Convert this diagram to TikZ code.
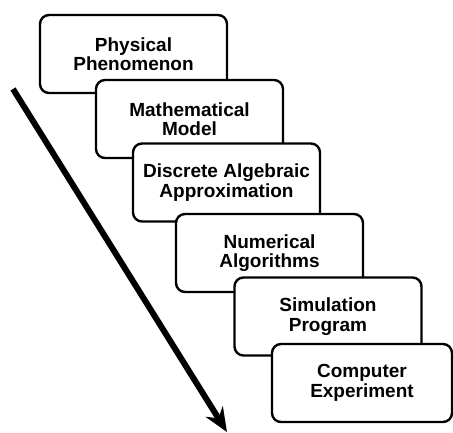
\documentclass[tikz,border=0pt]{standalone}
\usepackage{fontspec}
\setmainfont{Liberation Sans}
\usetikzlibrary{arrows.meta,positioning}

\begin{document}
\begin{tikzpicture}[x=1pt, y=-1pt]
		% --- Marco de la imagen ---
		\useasboundingbox (0,0) rectangle (453,433);
		
		% --- Estilos ---
		\tikzset{stagebox/.style={draw, line width=2.4pt, rounded corners=9pt, fill=white, align=center,
				minimum width=187pt, minimum height=78pt, inner sep=0pt,
				font=\bfseries\fontsize{19}{19.5}\selectfont}}
		
		% --- Etapas (cada una tapa a la anterior) ---
		\node[stagebox] (phys) at (133.5, 54) {Physical\\Phenomenon};
		\node[stagebox] (math) at (189.5, 119) {Mathematical\\Model};
		\node[stagebox] (disc) at (226.5, 182.5) {Discrete Algebraic\\Approximation};
		\node[stagebox] (num)  at (269.5, 253) {Numerical\\Algorithms};
		\node[stagebox] (sim)  at (328, 316.5) {Simulation\\Program};
		\node[stagebox, minimum width=180pt] (comp) at (362, 383) {Computer\\Experiment};
		
		% --- Flecha diagonal ---
		\coordinate (start) at (13, 89);
		\coordinate (end) at (227, 432);
		\draw[line width=6pt, -{Stealth[length=24pt, width=20pt]}] (start) -- (end);
		
	\end{tikzpicture}
\end{document}
